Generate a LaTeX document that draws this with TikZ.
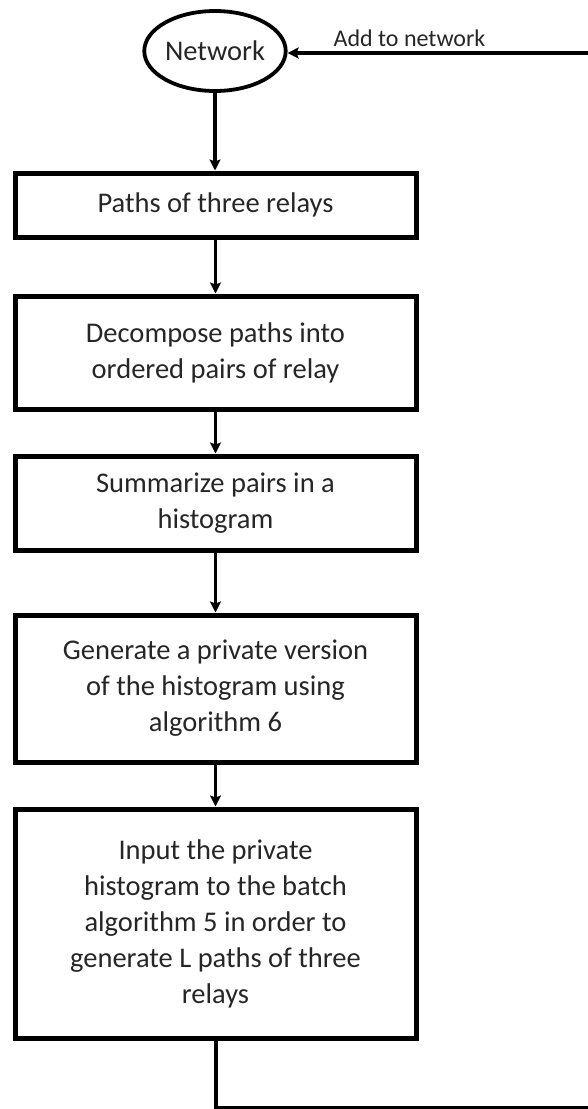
\documentclass[tikz,border=0pt]{standalone}
\usepackage{fontspec}
\setmainfont{Carlito}
\usetikzlibrary{arrows.meta,shapes.geometric}
\begin{document}
\begin{tikzpicture}[x=1pt,y=-1pt,
  every node/.style={text=black!85},
  stepbox/.style={draw=black, line width=5pt, minimum width=401pt,
    inner sep=0pt, align=center, font=\fontsize{28.5}{36}\selectfont},
  netnode/.style={draw=black, line width=3.8pt, ellipse, minimum width=132pt,
    minimum height=80pt, inner sep=0pt, font=\fontsize{28.5}{34}\selectfont},
  flow/.style={draw=black, line width=3.5pt,
    -{Stealth[length=11pt,width=11pt,inset=2pt]}},
  link/.style={draw=black, line width=3.5pt}]
  \useasboundingbox (0,0) rectangle (587,1109);

  % entry point of the flow
  \node[netnode] (net) at (215,51) {Network};

  % processing steps
  \node[stepbox, minimum height=64pt]  (s1) at (215.5,205)   {Paths of three relays};
  \node[stepbox, minimum height=113pt] (s2) at (215.5,352.5) {Decompose paths into\\ordered pairs of relay};
  \node[stepbox, minimum height=94pt]  (s3) at (215.5,503)   {Summarize pairs in a\\histogram};
  \node[stepbox, minimum height=147pt] (s4) at (215.5,688.5) {Generate a private version\\of the histogram using\\algorithm 6};
  \node[stepbox, minimum height=229pt] (s5) at (215.5,923.5) {Input the private\\histogram to the batch\\algorithm 5 in order to\\generate L paths of three\\relays};

  % downward arrows between the steps
  \draw[flow] (net.south) -- (net.south |- s1.north);
  \draw[flow] (s1) -- (s2);
  \draw[flow] (s2) -- (s3);
  \draw[flow] (s3) -- (s4);
  \draw[flow] (s4) -- (s5);

  % feedback loop back into the network
  \coordinate (down) at (216,1108);
  \coordinate (outb) at (592,1108);
  \coordinate (outt) at (592,53);
  \draw[link] (s5.south -| down) -- (down) -- (outb);
  \draw[flow] (outt) -- (net.east |- outt);
  \node[anchor=base, font=\fontsize{24}{28}\selectfont] (lbl) at (409.5,46) {Add to network};
\end{tikzpicture}
\end{document}
